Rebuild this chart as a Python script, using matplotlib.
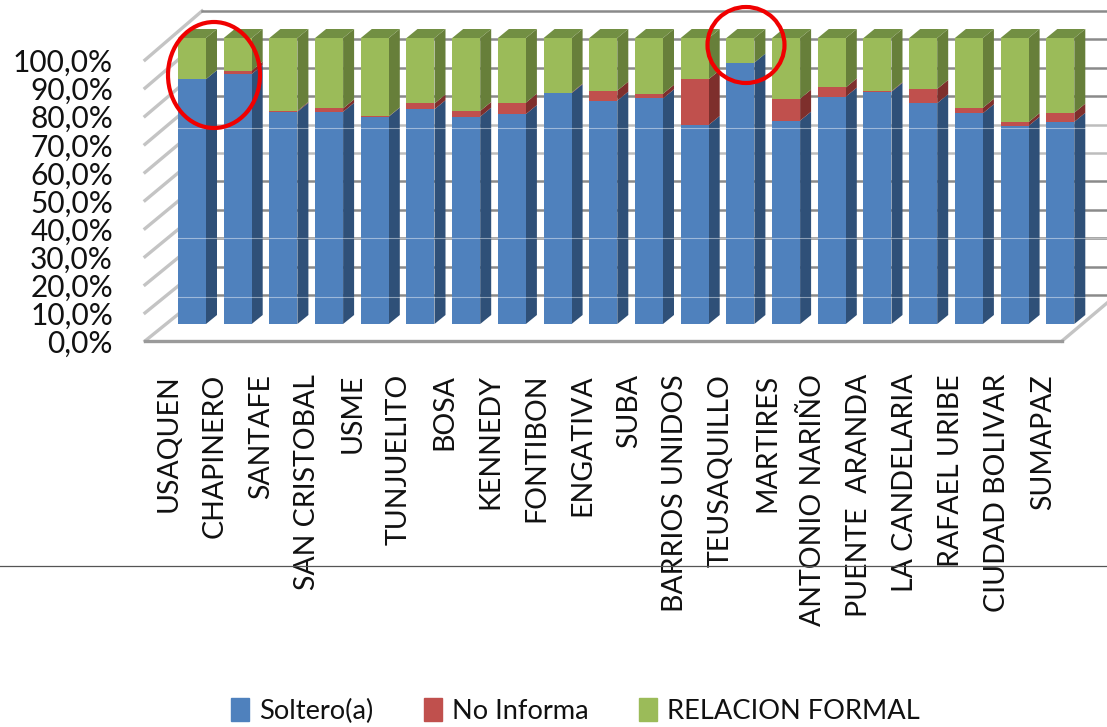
import matplotlib
matplotlib.use('Agg')
from matplotlib import pyplot as plt
from matplotlib.patches import Ellipse, Polygon, Patch

barrios = ['USAQUEN', 'CHAPINERO', 'SANTAFE', 'SAN CRISTOBAL', 'USME', 'TUNJUELITO', 'BOSA',
           'KENNEDY', 'FONTIBON', 'ENGATIVA', 'SUBA', 'BARRIOS UNIDOS', 'TEUSAQUILLO', 'MARTIRES',
           'ANTONIO NARIÑO', 'PUENTE  ARANDA', 'LA CANDELARIA', 'RAFAEL URIBE', 'CIUDAD BOLIVAR', 'SUMAPAZ']
soltero = [85.6, 87.4, 74.2, 74.2, 72.5, 75.1, 72.5, 73.4, 80.7, 78.1,
           78.9, 69.6, 91.4, 71.1, 79.5, 81.2, 77.2, 73.7, 69.3, 70.7]
no_informa = [0.0, 1.2, 0.3, 1.2, 0.1, 2.0, 2.0, 4.0, 0.2, 3.5,
              1.6, 16.0, 0.0, 7.7, 3.2, 0.2, 5.0, 1.9, 1.3, 3.2]
formal = [100 - a - b for a, b in zip(soltero, no_informa)]
yticks = [0, 10, 20, 30, 40, 50, 60, 70, 80, 90, 100]
series = ['Soltero(a)', 'No Informa', 'RELACION FORMAL']

front = ['#4f81bd', '#c0504d', '#9bbb59']
side = ['#2f5078', '#7e2f2c', '#677f3a']
top_col = '#728f43'

W, H = 1107, 727
pitch = 45.7
vscale = 2.86


# pixel position -> data value
def px(x):
    return (x - 178) / pitch


def py(y):
    return (324 - y) / vscale


plt.rcParams['font.family'] = ['Lato', 'DejaVu Sans']
fig = plt.figure(figsize=(W / 100, H / 100), dpi=100)
ax = fig.add_axes([0, 0, 1, 1])
ax.set_xlim(px(0), px(W))
ax.set_ylim(py(H), py(0))
ax.axis('off')

w = 28 / pitch
dx = 11 / pitch
dy = 9 / vscale

# walls: back gridlines and side ticks
wall_dx = 57 / pitch
for t in yticks:
    y_front = py(341 - t * 2.81)
    y_back = py(295 - t * 2.84)
    ax.plot([px(145), px(145) + wall_dx], [y_front, y_back], color='#c4c4c4', lw=2.4, zorder=1)
    ax.plot([px(145) + wall_dx, px(W)], [y_back, y_back],
            color='#8a8a8a' if t != 50 and t != 60 else '#bdbdbd', lw=1.8, zorder=1)
ax.plot([px(145), px(1062)], [py(341), py(341)], color='#9a9a9a', lw=2.4, zorder=2)
ax.plot([px(1062), px(W)], [py(341), py(303)], color='#c4c4c4', lw=2.4, zorder=1)

# pseudo 3d stacked bars
for i in range(len(barrios)):
    base = 0
    vals = [soltero[i], no_informa[i], formal[i]]
    for k, v in enumerate(vals):
        ax.bar(i, v, width=w, bottom=base, align='edge', color=front[k], lw=0, zorder=4)
        xs = i + w
        ax.add_patch(Polygon([(xs, base), (xs, base + v), (xs + dx, base + v + dy), (xs + dx, base + dy)],
                             closed=True, fc=side[k], ec='none', zorder=3))
        base += v
    ax.add_patch(Polygon([(i, 100), (i + w, 100), (i + w + dx, 100 + dy), (i + dx, 100 + dy)],
                         closed=True, fc=top_col, ec='none', zorder=3))

# thin light streaks across the bars
for y in [128, 238, 297]:
    ax.plot([px(178), px(W)], [py(y), py(y)], color='white', lw=0.8, alpha=0.45, zorder=5)

# y tick labels
for t in yticks:
    ax.text(px(113), py(344 - t * 2.81), ('%.1f%%' % t).replace('.', ','),
            ha='right', va='center', fontsize=21.5, color='#111111', zorder=6)

# category labels
for i, name in enumerate(barrios):
    ax.text(i * 1.0066 - 0.2, py(374), name, rotation=90, ha='center', va='top', fontsize=20.5,
            color='#111111', zorder=6)

ax.plot([px(0), px(W)], [py(566), py(566)], color='#555555', lw=0.9, zorder=7)

# red circles
ax.add_patch(Ellipse((px(214), py(75)), 92 / pitch, 106 / vscale, fc='none', ec='#f00000', lw=3, zorder=8))
ax.add_patch(Ellipse((px(746), py(45)), 77 / pitch, 76 / vscale, fc='none', ec='#f00000', lw=3, zorder=8))

handles = [Patch(color=c, label=s) for c, s in zip(front, series)]
ax.legend(handles=handles, ncol=3, frameon=False, loc='center', bbox_to_anchor=(0.52, 0.022),
          fontsize=19.6, handlelength=0.65, handleheight=0.9, handletextpad=0.38, columnspacing=1.85,
          labelcolor='#111111')

fig.savefig('out.png', dpi=100)
